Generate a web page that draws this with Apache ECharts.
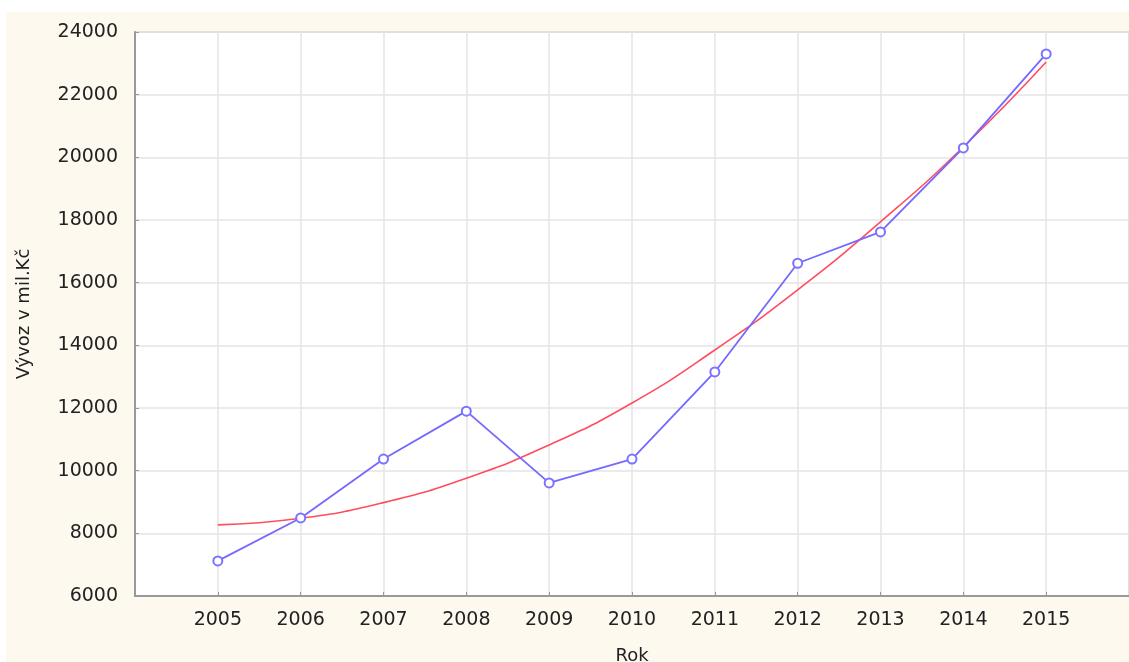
<!DOCTYPE html>
<html>
<head>
<meta charset="utf-8">
<script src="https://cdn.jsdelivr.net/npm/echarts@6/dist/echarts.min.js"></script>
<style>
  html, body { margin: 0; padding: 0; background: #fff; }
  #chart {
    position: absolute;
    left: 6px;
    top: 12px;
    width: 1123px;
    height: 650px;
    background: #fdf9ef;
  }
</style>
</head>
<body>
<div id="chart"></div>
<script>
// roky a hodnoty
const years = [2005, 2006, 2007, 2008, 2009, 2010, 2011, 2012, 2013, 2014, 2015]
const vyvoz = [7120, 8490, 10370, 11900, 9610, 10370, 13150, 16620, 17620, 20300, 23300]
const trend = [8270, 8480, 8980, 9760, 10820, 12160, 13850, 15770, 17940, 20330, 23040]
const yTicks = [6000, 8000, 10000, 12000, 14000, 16000, 18000, 20000, 22000, 24000]

const chart = echarts.init(document.getElementById('chart'))

const labelFont = {
  color: '#222',
  fontFamily: 'DejaVu Sans, Arial, sans-serif',
  fontSize: 19
}

chart.setOption({
  backgroundColor: 'transparent',
  animation: false,
  grid: {
    left: 129,
    right: 0,
    top: 20,
    bottom: 66,
    containLabel: false,
    outerBoundsMode: 'none',
    show: true,
    backgroundColor: '#fff',
    borderColor: '#a0a0a0',
    borderWidth: 1
  },
  xAxis: {
    type: 'value',
    min: 2004,
    max: 2016,
    interval: 1,
    name: 'Rok',
    nameLocation: 'middle',
    nameGap: 51,
    nameTextStyle: Object.assign({}, labelFont, { fontSize: 18 }),
    axisLine: { lineStyle: { color: '#999', width: 2 } },
    axisTick: { inside: true, length: 4, lineStyle: { color: '#999' } },
    axisLabel: Object.assign({}, labelFont, {
      margin: 15,
      formatter: v => (years.indexOf(v) >= 0 ? String(v) : '')
    }),
    splitLine: { lineStyle: { color: '#e4e4e4', width: 1.5 } }
  },
  yAxis: {
    type: 'value',
    min: yTicks[0],
    max: yTicks[yTicks.length - 1],
    interval: 2000,
    name: 'Vývoz v mil.Kč',
    nameLocation: 'middle',
    nameGap: 102,
    nameTextStyle: Object.assign({}, labelFont, { fontSize: 18 }),
    axisLine: { show: true, lineStyle: { color: '#999', width: 2 } },
    axisTick: { show: true, inside: true, length: 4, lineStyle: { color: '#999' } },
    axisLabel: Object.assign({}, labelFont, {
      margin: 17,
      formatter: v => String(v)
    }),
    splitLine: { lineStyle: { color: '#e4e4e4', width: 1.5 } }
  },
  series: [
    {
      name: 'Trend',
      type: 'line',
      smooth: true,
      showSymbol: false,
      lineStyle: { color: '#ff4d5e', width: 1.6 },
      data: years.map((y, i) => [y, trend[i]])
    },
    {
      name: 'Vývoz',
      type: 'line',
      symbol: 'emptyCircle',
      symbolSize: 9,
      itemStyle: { color: '#7b72ff', borderWidth: 1 },
      lineStyle: { color: '#7468ff', width: 1.8 },
      data: years.map((y, i) => [y, vyvoz[i]])
    }
  ]
})
</script>
</body>
</html>
